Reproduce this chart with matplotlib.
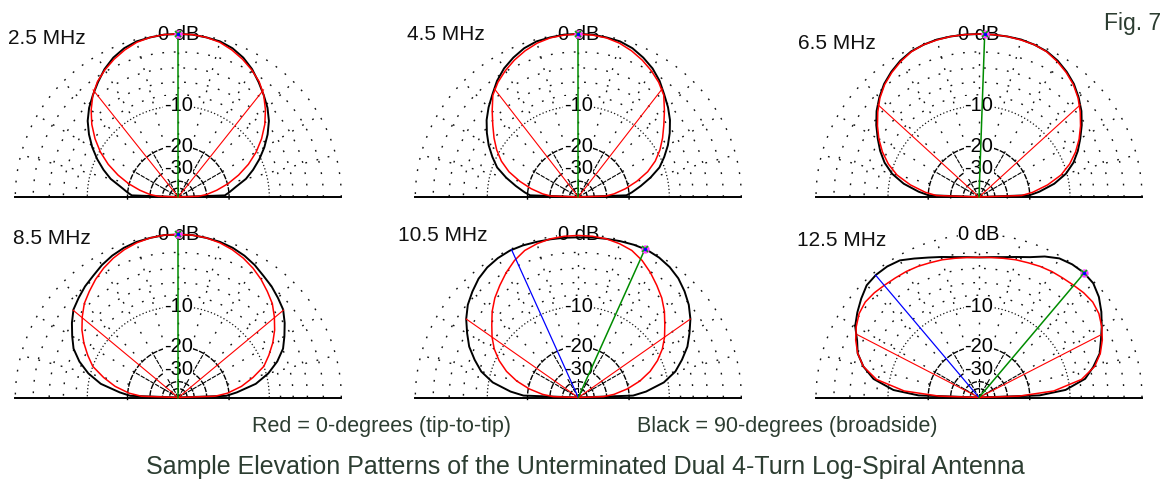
import numpy as np
import matplotlib.pyplot as plt

plt.rcParams['font.family'] = ['Liberation Sans', 'DejaVu Sans']

W, H = 1172, 483
R = 163.0   # 0 dB radius in pixels

# elevation angles (deg) at which the patterns were read
ANG = [0, 2, 5, 10, 15, 20, 25, 30, 35, 40, 45, 50, 55, 60, 65, 70, 75, 80, 85, 90,
       95, 100, 105, 110, 115, 120, 125, 130, 135, 140, 145, 150, 155, 160, 165, 170, 175, 178, 180]

# gain in dB, black = 90-degrees (broadside), red = 0-degrees (tip-to-tip)
black_25 = [-99, -21.5, -20.0, -17.6, -14.5, -12.3, -10.3, -8.5, -6.9, -5.5, -4.4, -3.5, -2.6, -1.7, -1.0, -0.5, -0.2, -0.1, 0.0, 0.0,
            0.0, -0.1, -0.2, -0.5, -1.0, -1.7, -2.6, -3.5, -4.4, -5.5, -6.9, -8.5, -10.3, -12.3, -14.5, -17.6, -20.0, -21.5, -99]
red_25 = [-99, -36.0, -30.0, -24.5, -19.8, -16.0, -12.8, -10.2, -8.1, -6.3, -4.8, -3.5, -2.5, -1.8, -1.2, -0.7, -0.3, -0.1, 0.0, 0.0,
          0.0, -0.1, -0.3, -0.7, -1.2, -1.8, -2.5, -3.5, -4.8, -6.3, -8.1, -10.2, -12.8, -16.0, -19.8, -24.5, -30.0, -36.0, -99]

black_45 = [-99, -20.9, -19.0, -16.2, -13.4, -10.9, -9.3, -7.8, -6.5, -5.3, -4.3, -3.4, -2.4, -1.6, -1.0, -0.5, -0.2, -0.1, 0.0, 0.0,
            0.0, -0.1, -0.2, -0.5, -1.0, -1.6, -2.4, -3.4, -4.3, -5.3, -6.5, -7.8, -9.3, -10.9, -13.4, -16.2, -19.0, -20.9, -99]
red_45 = [-99, -30.5, -26.0, -21.0, -17.0, -13.6, -11.2, -9.4, -7.9, -6.5, -5.0, -3.5, -2.6, -1.9, -1.3, -0.8, -0.4, -0.15, -0.05, 0.0,
          -0.05, -0.15, -0.4, -0.8, -1.3, -1.9, -2.6, -3.5, -5.0, -6.5, -7.9, -9.4, -11.2, -13.6, -17.0, -21.0, -26.0, -30.5, -99]

black_65 = [-99, -20.1, -17.0, -13.0, -10.2, -8.3, -6.9, -5.7, -4.5, -3.4, -2.5, -1.7, -1.1, -0.6, -0.25, -0.1, 0.0, 0.0, 0.0, 0.0,
            0.0, 0.0, 0.0, -0.1, -0.25, -0.6, -1.1, -1.7, -2.5, -3.4, -4.5, -5.7, -6.9, -8.3, -10.2, -13.0, -17.0, -20.1, -99]
red_65 = [-99, -23.0, -19.0, -14.6, -11.2, -9.0, -7.3, -5.9, -4.7, -3.6, -2.6, -1.8, -1.2, -0.7, -0.3, -0.1, -0.05, 0.0, 0.0, 0.0,
          0.0, 0.0, -0.05, -0.1, -0.3, -0.7, -1.2, -1.8, -2.6, -3.6, -4.7, -5.9, -7.3, -9.0, -11.2, -14.6, -19.0, -23.0, -99]

black_85 = [-99, -21.0, -17.5, -12.5, -9.6, -7.5, -5.9, -4.9, -3.9, -3.0, -2.5, -2.0, -1.6, -1.1, -0.7, -0.4, -0.2, -0.1, 0.0, 0.0,
            0.0, -0.1, -0.2, -0.4, -0.7, -1.1, -1.6, -2.0, -2.5, -3.0, -3.9, -4.9, -5.9, -7.5, -9.6, -12.5, -17.5, -21.0, -99]
red_85 = [-99, -25.5, -20.5, -16.0, -12.8, -10.0, -8.4, -6.9, -5.6, -4.5, -3.5, -2.8, -2.1, -1.5, -1.0, -0.6, -0.3, -0.1, 0.0, 0.0,
          0.0, -0.1, -0.3, -0.6, -1.0, -1.5, -2.1, -2.8, -3.5, -4.5, -5.6, -6.9, -8.4, -10.0, -12.8, -16.0, -20.5, -25.5, -99]

black_105 = [-99, -18.7, -15.0, -10.8, -8.3, -6.7, -5.2, -4.1, -3.0, -2.1, -1.4, -0.8, -0.4, -0.15, -0.02, -0.05, -0.12, -0.2, -0.25, -0.3,
             -0.28, -0.25, -0.2, -0.12, -0.1, -0.22, -0.45, -0.85, -1.45, -2.1, -3.0, -4.1, -5.2, -6.7, -8.3, -10.8, -15.0, -18.7, -99]
red_105 = [-99, -32.0, -26.0, -20.3, -16.1, -13.0, -10.7, -8.9, -7.5, -6.3, -5.0, -3.9, -3.0, -2.1, -1.3, -0.7, -0.4, -0.2, -0.12, -0.1,
           -0.12, -0.2, -0.4, -0.7, -1.3, -2.1, -3.0, -3.9, -5.0, -6.3, -7.5, -8.9, -10.7, -13.0, -16.1, -20.3, -26.0, -32.0, -99]

black_125 = [-99, -17.0, -10.8, -7.1, -5.5, -4.1, -3.3, -2.4, -1.5, -0.7, -0.15, 0.0, -0.05, -0.25, -0.8, -1.5, -1.95, -2.3, -2.5, -2.6,
             -2.5, -2.3, -1.95, -1.55, -1.05, -0.5, -0.32, -0.3, -0.45, -1.0, -1.6, -2.25, -3.3, -4.0, -5.3, -7.2, -11.0, -17.0, -99]
red_125 = [-99, -24.0, -13.3, -7.7, -5.3, -4.0, -3.1, -2.4, -1.85, -1.6, -1.65, -1.8, -1.9, -1.95, -2.05, -2.2, -2.3, -2.45, -2.55, -2.6,
           -2.55, -2.45, -2.3, -2.2, -2.05, -1.95, -1.9, -1.8, -1.65, -1.6, -1.85, -2.4, -3.1, -4.0, -5.3, -7.7, -13.3, -24.0, -99]

freq_labels = ['2.5 MHz', '4.5 MHz', '6.5 MHz', '8.5 MHz', '10.5 MHz', '12.5 MHz']
blacks = [black_25, black_45, black_65, black_85, black_105, black_125]
reds = [red_25, red_45, red_65, red_85, red_105, red_125]
max_ang = [90, 90, 88, 90, 65.8, 49.8]                 # green line, 0 dB
bw_ang = [(51.5, 128.5), (52.2, 127.8), (42.3, 137.6),
          (39.7, 140.3), (35.0, 145.0), (27.2, 152.7)]  # -3 dB lines
blue_pts = [None, None, None, None, (114.3, -0.1), (130.2, -0.3)]
ring_labels = [(0, '0 dB'), (-10, '-10'), (-20, '-20'), (-30, '-30')]

# layout (pixels): plot origin, label position
centers = [(178.3, 197), (578.3, 197), (979, 197),
           (178.3, 397.5), (578.3, 397.5), (979, 397.5)]
label_pos = [(8, 44), (407, 40), (798, 49), (13, 244), (398, 241), (797, 246)]

txt_col = '#2c3d31'


def rho(db):
    db = np.asarray(db, dtype=float)
    return np.where(db <= -60, 0.0, 0.89 ** (-db / 2.0))   # ARRL log scale


def xy(ang, db):
    a = np.radians(ang)
    r = rho(db)
    return r * np.cos(a), r * np.sin(a)


fig = plt.figure(figsize=(W / 100, H / 100), dpi=100)

sparse = (0, (1.3, 7))
dash = (0, (4, 1.0))
dotc = '#111111'
arc = np.radians(np.linspace(0, 180, 361))
arc_in = np.radians(np.linspace(-3, 183, 373))

for i in range(6):
    cx, cy = centers[i]
    ax = fig.add_axes([(cx - 1.15 * R) / W, (H - cy - 0.12 * R) / H,
                       2.3 * R / W, 1.3 * R / H])
    ax.set_xlim(-1.15, 1.15)
    ax.set_ylim(-0.12, 1.18)
    ax.axis('off')
    ax.patch.set_alpha(0)

    # grid rings
    for db in [0, -2, -4, -6, -8]:
        r = rho(db)
        ax.plot(r * np.cos(arc), r * np.sin(arc), color=dotc, lw=1.0, ls=sparse, zorder=1)
    r = rho(-10)
    ax.plot(r * np.cos(arc), r * np.sin(arc), color=dotc, lw=0.9, ls=(0, (1, 1.8)), zorder=1)
    for db in [-20, -30, -40, -50]:
        r = rho(db)
        ax.plot(r * np.cos(arc_in), r * np.sin(arc_in), color='black', lw=1.0, ls=dash, zorder=1)
    # spokes
    r20 = rho(-20)
    for a in range(15, 180, 15):
        t = np.radians(a)
        ax.plot([r20 * np.cos(t), np.cos(t)], [r20 * np.sin(t), np.sin(t)],
                color=dotc, lw=1.0, ls=sparse, zorder=1)
        if a % 30 == 0:
            ax.plot([0, r20 * np.cos(t)], [0, r20 * np.sin(t)],
                    color='black', lw=0.8, ls=dash, zorder=1)
    ax.plot([-1, 1], [0, 0], color='black', lw=1.4, zorder=1)

    for db, s in ring_labels:
        ax.text(0, rho(db), s, ha='center', va='center', fontsize=14.5, color='black',
                bbox=dict(facecolor='white', edgecolor='none', pad=0.3), zorder=2)

    bx, by = xy(ANG, blacks[i])
    ax.plot(bx, by, color='black', lw=1.4, zorder=3)
    rx, ry = xy(ANG, reds[i])
    ax.plot(rx, ry, color='#ff0000', lw=1.1, zorder=4)

    for a in bw_ang[i]:
        ex, ey = xy(a, -3)
        ax.plot([0, ex], [0, ey], color='#ff0000', lw=0.8, zorder=5)
    if blue_pts[i] is not None:
        ex, ey = xy(*blue_pts[i])
        ax.plot([0, ex], [0, ey], color='#0000ff', lw=0.9, zorder=5)
    mx, my = xy(max_ang[i], 0)
    ax.plot([0, mx], [0, my], color='#008c00', lw=1.1, zorder=5)
    ax.plot(mx, my, 'o', ms=5, mfc='#ff40ff', mec='#ff40ff', zorder=6)
    ax.plot(mx, my, 'x', ms=5, mew=1.2, color='#00b000', zorder=7)
    ax.plot(mx, my, '.', ms=3, color='#0000ff', zorder=8)

    lx, ly = label_pos[i]
    fig.text(lx / W, 1 - ly / H, freq_labels[i], ha='left', va='baseline',
             fontsize=15, color='#111111')

fig.text(1133 / W, 1 - 30 / H, 'Fig. 7', ha='center', va='baseline', fontsize=16.5, color=txt_col)
fig.text(381 / W, 1 - 432 / H, 'Red = 0-degrees (tip-to-tip)', ha='center', va='baseline',
         fontsize=15.5, color=txt_col)
fig.text(787 / W, 1 - 432 / H, 'Black = 90-degrees (broadside)', ha='center', va='baseline',
         fontsize=15.5, color=txt_col)
fig.text(585 / W, 1 - 474 / H,
         'Sample Elevation Patterns of the Unterminated Dual 4-Turn Log-Spiral Antenna',
         ha='center', va='baseline', fontsize=18, color=txt_col)

plt.savefig('out.png', dpi=100)
